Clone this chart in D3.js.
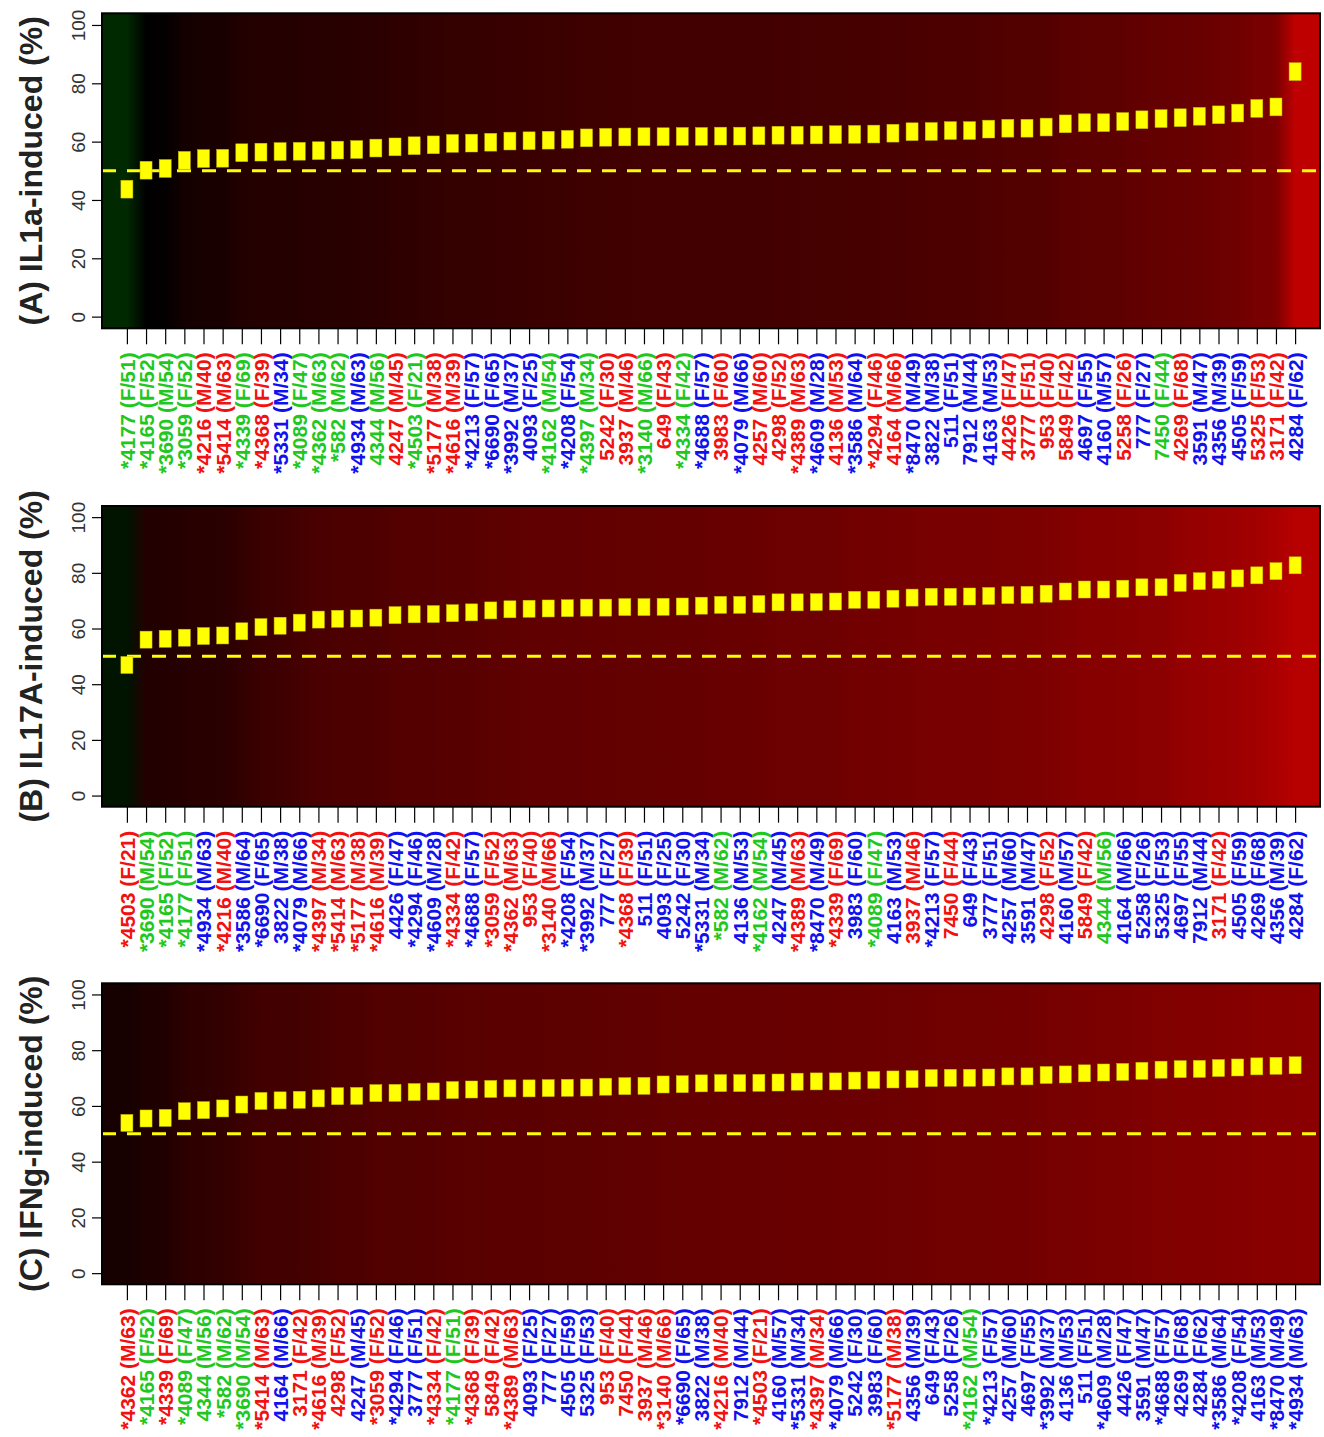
<!DOCTYPE html>
<html>
<head>
<meta charset="utf-8">
<script src="https://cdn.jsdelivr.net/npm/d3@7"></script>
<style>
  html, body { margin: 0; padding: 0; background: #ffffff; }
  svg { display: block; }
</style>
</head>
<body>
<div id="chart"></div>
<script>
// ---------------- DATA ----------------
const titles = ["(A) IL1a-induced (%)", "(B) IL17A-induced (%)", "(C) IFNg-induced (%)"];
const yTicks = [0, 20, 40, 60, 80, 100];
const threshold = 50;

const labelsA = ["*4177 (F/51)","*4165 (F/52)","*3690 (M/54)","*3059 (F/52)","*4216 (M/40)","*5414 (M/63)","*4339 (F/69)","*4368 (F/39)","*5331 (M/34)","*4089 (F/47)","*4362 (M/63)","*582 (M/62)","*4934 (M/63)","4344 (M/56)","4247 (M/45)","*4503 (F/21)","*5177 (M/38)","*4616 (M/39)","*4213 (F/57)","*6690 (F/65)","*3992 (M/37)","4093 (F/25)","*4162 (M/54)","*4208 (F/54)","*4397 (M/34)","5242 (F/30)","3937 (M/46)","*3140 (M/66)","649 (F/43)","*4334 (F/42)","*4688 (F/57)","3983 (F/60)","*4079 (M/66)","4257 (M/60)","4298 (F/52)","*4389 (M/63)","*4609 (M/28)","4136 (M/53)","*3586 (M/64)","*4294 (F/46)","4164 (M/66)","*8470 (M/49)","3822 (M/38)","511 (F/51)","7912 (M/44)","4163 (M/53)","4426 (F/47)","3777 (F/51)","953 (F/40)","5849 (F/42)","4697 (F/55)","4160 (M/57)","5258 (F/26)","777 (F/27)","7450 (F/44)","4269 (F/68)","3591 (M/47)","4356 (M/39)","4505 (F/59)","5325 (F/53)","3171 (F/42)","4284 (F/62)"];
const groupsA = ["g","g","g","g","r","r","g","r","b","g","g","g","b","g","r","g","r","r","b","b","b","b","g","b","g","r","r","g","r","g","b","r","b","r","r","r","b","r","b","r","r","b","b","b","b","b","r","r","r","r","b","b","r","b","g","r","b","b","b","r","r","b"];
const valuesA = [43.7,50.2,50.8,53.6,54.2,54.3,56.2,56.4,56.6,56.7,56.9,57.1,57.3,57.8,58.2,58.6,58.9,59.4,59.5,59.8,60.2,60.3,60.5,60.8,61.3,61.5,61.6,61.7,61.7,61.8,61.8,61.9,61.9,62.0,62.2,62.2,62.3,62.4,62.5,62.6,62.9,63.4,63.5,63.8,63.8,64.3,64.6,64.6,65.0,66.1,66.5,66.5,66.9,67.5,67.9,68.2,68.7,69.2,69.8,71.4,71.9,84.0];

const labelsB = ["*4503 (F/21)","*3690 (M/54)","*4165 (F/52)","*4177 (F/51)","*4934 (M/63)","*4216 (M/40)","*3586 (M/64)","*6690 (F/65)","3822 (M/38)","*4079 (M/66)","*4397 (M/34)","*5414 (M/63)","*5177 (M/38)","*4616 (M/39)","4426 (F/47)","*4294 (F/46)","*4609 (M/28)","*4334 (F/42)","*4688 (F/57)","*3059 (F/52)","*4362 (M/63)","953 (F/40)","*3140 (M/66)","*4208 (F/54)","*3992 (M/37)","777 (F/27)","*4368 (F/39)","511 (F/51)","4093 (F/25)","5242 (F/30)","*5331 (M/34)","*582 (M/62)","4136 (M/53)","*4162 (M/54)","4247 (M/45)","*4389 (M/63)","*8470 (M/49)","*4339 (F/69)","3983 (F/60)","*4089 (F/47)","4163 (M/53)","3937 (M/46)","*4213 (F/57)","7450 (F/44)","649 (F/43)","3777 (F/51)","4257 (M/60)","3591 (M/47)","4298 (F/52)","4160 (M/57)","5849 (F/42)","4344 (M/56)","4164 (M/66)","5258 (F/26)","5325 (F/53)","4697 (F/55)","7912 (M/44)","3171 (F/42)","4505 (F/59)","4269 (F/68)","4356 (M/39)","4284 (F/62)"];
const groupsB = ["r","g","g","g","b","r","b","b","b","b","r","r","r","r","b","b","b","r","b","r","r","r","r","b","b","b","r","b","b","b","b","g","b","g","b","r","b","r","b","g","b","r","b","r","b","b","b","b","r","b","r","g","b","b","b","b","b","r","b","b","b","b"];
const valuesB = [46.9,56.0,56.3,56.7,57.3,57.5,59.0,60.5,61.0,62.1,63.2,63.5,63.6,63.9,64.8,65.1,65.2,65.5,65.8,66.5,66.9,67.1,67.2,67.3,67.5,67.5,67.7,67.7,67.8,67.9,68.2,68.5,68.5,68.8,69.4,69.4,69.5,69.7,70.3,70.3,70.7,71.1,71.4,71.4,71.5,71.7,72.0,72.1,72.5,73.3,74.0,74.0,74.3,74.8,74.8,76.4,77.0,77.5,78.0,79.1,80.6,82.7];

const labelsC = ["*4362 (M/63)","*4165 (F/52)","*4339 (F/69)","*4089 (F/47)","4344 (M/56)","*582 (M/62)","*3690 (M/54)","*5414 (M/63)","4164 (M/66)","3171 (F/42)","*4616 (M/39)","4298 (F/52)","4247 (M/45)","*3059 (F/52)","*4294 (F/46)","3777 (F/51)","*4334 (F/42)","*4177 (F/51)","*4368 (F/39)","5849 (F/42)","*4389 (M/63)","4093 (F/25)","777 (F/27)","4505 (F/59)","5325 (F/53)","953 (F/40)","7450 (F/44)","3937 (M/46)","*3140 (M/66)","*6690 (F/65)","3822 (M/38)","*4216 (M/40)","7912 (M/44)","*4503 (F/21)","4160 (M/57)","*5331 (M/34)","*4397 (M/34)","*4079 (M/66)","5242 (F/30)","3983 (F/60)","*5177 (M/38)","4356 (M/39)","649 (F/43)","5258 (F/26)","*4162 (M/54)","*4213 (F/57)","4257 (M/60)","4697 (F/55)","*3992 (M/37)","4136 (M/53)","511 (F/51)","*4609 (M/28)","4426 (F/47)","3591 (M/47)","*4688 (F/57)","4269 (F/68)","4284 (F/62)","*3586 (M/64)","*4208 (F/54)","4163 (M/53)","*8470 (M/49)","*4934 (M/63)"];
const groupsC = ["r","g","r","g","g","g","g","r","b","r","r","r","b","r","b","b","r","g","r","r","r","b","b","b","b","r","r","r","r","b","b","r","b","r","b","b","r","b","b","b","r","b","b","b","g","b","b","b","b","b","b","b","b","b","b","b","b","b","b","b","b","b"];
const valuesC = [53.9,55.5,55.7,58.1,58.5,59.1,60.5,61.8,62.0,62.2,62.7,63.5,63.6,64.6,64.7,65.0,65.2,65.7,65.9,66.1,66.3,66.3,66.4,66.5,66.6,66.9,67.1,67.2,67.7,67.8,68.1,68.2,68.2,68.3,68.4,68.7,68.8,68.8,69.1,69.3,69.5,69.6,70.0,70.1,70.1,70.2,70.6,70.6,71.1,71.3,71.7,72.0,72.2,72.6,73.0,73.2,73.3,73.6,73.8,74.2,74.4,74.6];

// ---------------- LAYOUT / STYLE ----------------
const W = 1324, H = 1437;
const groupColor = { g: "#1ec81e", r: "#f21010", b: "#1010f0" };
const panelBoxes = [
  { top: 13.3, bottom: 328.3 },
  { top: 506, bottom: 806.7 },
  { top: 983.3, bottom: 1284.3 }
];
const panels = [
  { title: titles[0], labels: labelsA, groups: groupsA, values: valuesA },
  { title: titles[1], labels: labelsB, groups: groupsB, values: valuesB },
  { title: titles[2], labels: labelsC, groups: groupsC, values: valuesC }
];
const boxHalf = 3.05;    // half-height of marker in data units
const boxW = 12;

const svg = d3.select("#chart").append("svg")
  .attr("width", W).attr("height", H)
  .attr("viewBox", `0 0 ${W} ${H}`);
svg.append("rect").attr("width", W).attr("height", H).attr("fill", "#ffffff");
const defs = svg.append("defs");

const x = d3.scaleLinear().domain([-0.3, 63.3]).range([102, 1320]);
const bg = d3.scaleLinear()
  .domain([50 - 255 / 6.5, 50, 50 + 255 / 5.6])
  .range(["#00ff00", "#000000", "#ff0000"])
  .clamp(true);

panels.forEach((p, pi) => {
  const box = panelBoxes[pi];
  const y = d3.scaleLinear().domain([-4, 104]).range([box.bottom, box.top]);
  const [x0, x1] = x.range();
  const idx = d3.range(1, p.values.length + 1);

  // background gradient from values
  const grad = defs.append("linearGradient")
    .attr("id", "bg" + pi)
    .attr("gradientUnits", "userSpaceOnUse")
    .attr("x1", x0).attr("x2", x1).attr("y1", 0).attr("y2", 0);
  grad.selectAll("stop").data(p.values).join("stop")
    .attr("offset", (d, i) => (x(i + 1) - x0) / (x1 - x0))
    .attr("stop-color", d => bg(d));

  const g = svg.append("g");
  g.append("rect")
    .attr("x", x0).attr("y", box.top)
    .attr("width", x1 - x0).attr("height", box.bottom - box.top)
    .attr("fill", `url(#bg${pi})`);

  // threshold line
  g.append("line")
    .attr("x1", x0).attr("x2", x1)
    .attr("y1", y(threshold)).attr("y2", y(threshold))
    .attr("stroke", "#ffff00").attr("stroke-width", 3)
    .attr("stroke-dasharray", "14 11");

  // markers
  g.selectAll("rect.mk").data(p.values).join("rect")
    .attr("class", "mk")
    .attr("x", (d, i) => x(i + 1) - boxW / 2)
    .attr("width", boxW)
    .attr("y", d => y(d + boxHalf))
    .attr("height", d => y(d - boxHalf) - y(d + boxHalf))
    .attr("fill", "#ffff00")
    .attr("stroke", "#c8b800").attr("stroke-width", 0.5);

  // border
  g.append("rect")
    .attr("x", x0).attr("y", box.top)
    .attr("width", x1 - x0).attr("height", box.bottom - box.top)
    .attr("fill", "none").attr("stroke", "#000").attr("stroke-width", 2);

  // y axis
  const ya = g.append("g").attr("transform", `translate(${x0},0)`)
    .call(d3.axisLeft(y).tickValues(yTicks).tickSize(10).tickFormat(d3.format("d")));
  ya.select(".domain").remove();
  ya.selectAll(".tick line").attr("stroke", "#000").attr("stroke-width", 1.2);
  ya.selectAll(".tick text")
    .attr("x", 0).attr("y", 0).attr("dy", "0.35em")
    .attr("text-anchor", "middle")
    .attr("transform", "translate(-24,0) rotate(-90)")
    .attr("font-family", "'Liberation Sans', Arial, sans-serif")
    .attr("font-size", 19)
    .attr("fill", "#333");

  // x axis
  const xa = g.append("g").attr("transform", `translate(0,${box.bottom})`)
    .call(d3.axisBottom(x).tickValues(idx).tickSize(16).tickFormat(d => p.labels[d - 1]));
  xa.select(".domain").remove();
  xa.selectAll(".tick line").attr("stroke", "#000").attr("stroke-width", 1.2);
  xa.selectAll(".tick text")
    .attr("x", 0).attr("y", 0).attr("dy", "0.35em")
    .attr("text-anchor", "end")
    .attr("transform", "translate(0,24) rotate(-90)")
    .attr("font-family", "'Liberation Sans', Arial, sans-serif")
    .attr("font-size", 21)
    .attr("font-weight", "bold")
    .attr("fill", d => groupColor[p.groups[d - 1]]);

  // axis title
  g.append("text")
    .attr("transform", `translate(31,${(box.top + box.bottom) / 2}) rotate(-90)`)
    .attr("dy", "0.35em")
    .attr("text-anchor", "middle")
    .attr("font-family", "'Liberation Sans', Arial, sans-serif")
    .attr("font-size", 32)
    .attr("font-weight", "bold")
    .attr("fill", "#222")
    .text(p.title);
});
</script>
</body>
</html>
